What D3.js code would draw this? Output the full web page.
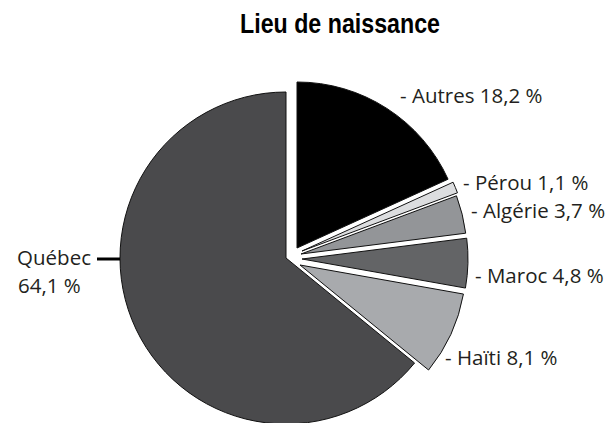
<!DOCTYPE html>
<html>
<head>
<meta charset="utf-8">
<script src="https://cdn.jsdelivr.net/npm/d3@7"></script>
<style>
	body { margin: 0; background: #fff; }
	svg { display: block; }
</style>
</head>
<body>
<svg id="chart" width="616" height="423"></svg>
<script>
// données du graphique
const categories = ["Autres", "Pérou", "Algérie", "Maroc", "Haïti", "Québec"];
const percents = [18.2, 1.1, 3.7, 4.8, 8.1, 64.1];
const labels = ["- Autres 18,2 %", "- Pérou 1,1 %", "- Algérie 3,7 %", "- Maroc 4,8 %", "- Haïti 8,1 %"];
const colors = ["#000000", "#dcdddf", "#939598", "#636466", "#a8aaad", "#4a4a4c"];

// mise en page
const cx = 286, cy = 258, radius = 166;
const explode = [[11, -10], [16, -7], [15, -4], [16, 1], [14, 7], [0, 0]]; // décalage de chaque part
const labelPos = [[400, 103], [463, 190], [471, 218], [475, 283], [445, 365]];

const svg = d3.select("#chart");

// titre (police condensée simulée par une mise à l'échelle horizontale)
svg.append("text")
	.attr("transform", "translate(340, 33) scale(0.86, 1)")
	.attr("text-anchor", "middle")
	.style("font-family", "'Liberation Sans', Arial, sans-serif")
	.style("font-weight", "bold")
	.style("font-size", "27px")
	.attr("fill", "#000")
	.text("Lieu de naissance");

const pie = d3.pie().sort(null).value((d) => d);
const arc = d3.arc().innerRadius(0).outerRadius(radius);
const arcs = pie(percents);

// parts du camembert
svg.selectAll("path.slice")
	.data(arcs)
	.enter()
	.append("path")
	.attr("class", "slice")
	.attr("transform", (d, i) => `translate(${cx + explode[i][0]}, ${cy + explode[i][1]})`)
	.attr("d", arc)
	.attr("fill", (d, i) => colors[i])
	.attr("stroke", "#111")
	.attr("stroke-width", 1)
	.attr("stroke-linejoin", "miter");

// étiquettes à droite
const labelFont = "'Open Sans', 'Noto Sans', sans-serif";
svg.selectAll("text.lbl")
	.data(labels)
	.enter()
	.append("text")
	.attr("class", "lbl")
	.attr("x", (d, i) => labelPos[i][0])
	.attr("y", (d, i) => labelPos[i][1])
	.style("font-family", labelFont)
	.style("font-size", "20.5px")
	.attr("fill", "#231f20")
	.text((d) => d);

// étiquette Québec
svg.append("line")
	.attr("x1", 97)
	.attr("x2", cx - radius)
	.attr("y1", 259)
	.attr("y2", 259)
	.attr("stroke", "#000")
	.attr("stroke-width", 3);

svg.append("text")
	.attr("x", 91)
	.attr("y", 265)
	.attr("text-anchor", "end")
	.style("font-family", labelFont)
	.style("font-size", "20.5px")
	.attr("fill", "#231f20")
	.text(categories[5]);

svg.append("text")
	.attr("x", 18)
	.attr("y", 293)
	.style("font-family", labelFont)
	.style("font-size", "20.5px")
	.attr("fill", "#231f20")
	.text(`${String(percents[5]).replace(".", ",")} %`);
</script>
</body>
</html>
